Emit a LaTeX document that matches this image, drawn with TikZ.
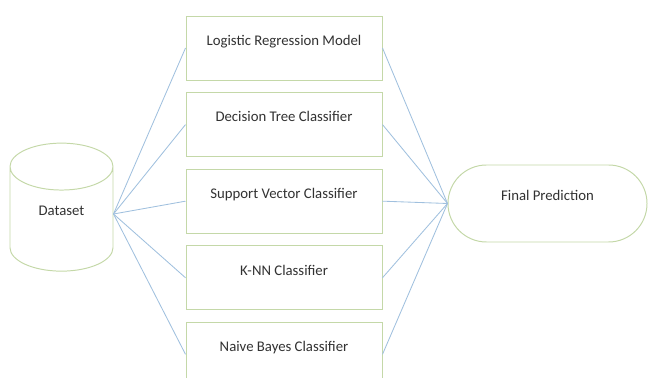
\documentclass[tikz,border=0pt]{standalone}
\usepackage{fontspec}
\setmainfont{Carlito}
\definecolor{boxgreen}{RGB}{196, 216, 168}
\definecolor{lineblue}{RGB}{160, 192, 222}
\definecolor{textgray}{RGB}{50, 50, 50}
\usetikzlibrary{positioning, shapes.geometric, calc}

\begin{document}
\begin{tikzpicture}[
    model/.style={draw=boxgreen, line width=0.7pt, fill=white, minimum width=4.9cm, minimum height=1.6cm, inner sep=0pt, text height=0.2cm, text depth=0.33cm, font=\fontsize{10.5}{12}\selectfont, text=textgray},
    link/.style={draw=lineblue, line width=0.6pt}
]
        \useasboundingbox (0,0) rectangle (16.2,-9.45);

        % Dataset
        \node[cylinder, shape border rotate=90, aspect=0.85, draw=boxgreen, line width=0.7pt, minimum width=2.575cm, minimum height=3.2cm, text height=0.2cm, text depth=0.6cm, font=\fontsize{10.5}{12}\selectfont, text=textgray] (data) at (1.5375,-5.6) {Dataset};
        \coordinate (din) at ($(data.east)+(0,0.25)$);

        % Models
        \node[model] (m1) at (7.1,-1.2) {Logistic Regression Model};
        \node[model, below=0.29cm of m1] (m2) {Decision Tree Classifier};
        \node[model, below=0.29cm of m2] (m3) {Support Vector Classifier};
        \node[model, below=0.29cm of m3] (m4) {K-NN Classifier};
        \node[model, below=0.29cm of m4] (m5) {Naive Bayes Classifier};

        % Final prediction
        \node[model, rounded corners=0.96cm, minimum width=4.975cm, minimum height=1.925cm] (final) at (13.6875,-5.0875) {Final Prediction};

        % Connections
        \foreach \m in {m1, m2, m3, m4, m5} {
            \draw[link] (din) -- (\m.west);
            \draw[link] (\m.east) -- (final.west);
        }

    \end{tikzpicture}
\end{document}
